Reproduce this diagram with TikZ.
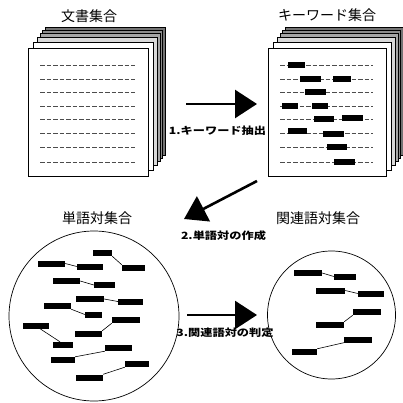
\documentclass[tikz,border=0pt]{standalone}
\usepackage{fontspec}
\usepackage{graphicx}
\setmainfont{Noto Sans CJK JP}
\usetikzlibrary{arrows.meta}
\tikzset{
  title/.style={font=\fontsize{14}{16}\selectfont, inner sep=0pt},
  steplabel/.style={font=\fontsize{10}{12}\selectfont\bfseries, inner sep=0pt},
  sheet/.style={draw=black, line width=0.7pt},
  dline/.style={draw=black!70, line width=0.75pt, dash pattern=on 4.5pt off 2pt},
  kw/.style={fill=black, inner sep=0pt, minimum height=6pt},
  pairline/.style={draw=black, line width=0.6pt},
  setcircle/.style={draw=black, circle, line width=0.7pt, inner sep=0pt},
  bigarrow/.style={line width=2.6pt, -{Triangle[length=22pt,width=28pt]}}
}
\begin{document}
\begin{tikzpicture}[x=1pt,y=-1pt]
\useasboundingbox (0,0) rectangle (402,403);
\fill[white] (0,0) rectangle (402,403);

% ---- titles
\node[title] (tDoc) at (89,16) {文書集合};
\node[title] (tKey) at (327,15) {キーワード集合};
\node[title] (tPair) at (97,218) {単語対集合};
\node[title] (tRel) at (318,218) {関連語対集合};

% ---- document stack (left)
\foreach \dx/\dy/\c in {17/-21/black!55, 14/-18/black!45, 12/-15/black!35, 9/-11/black!15, 5/-6/white}
  \draw[sheet, fill=\c, shift={(\dx,\dy)}] (28,48) rectangle (148,176);
\node[sheet, fill=white, minimum width=120pt, minimum height=128pt, inner sep=0pt] (docL) at (88,112) {};
\foreach \yy in {65,79,92.5,106,119.5,133,147.5,162}
  \draw[dline] (40,\yy) -- (135,\yy);

% ---- keyword stack (right)
\foreach \dx/\dy/\c in {17/-21/black!55, 14/-18/black!45, 12/-15/black!35, 9/-11/black!15, 5/-6/white}
  \draw[sheet, fill=\c, shift={(\dx,\dy)}] (268,48) rectangle (386,176);
\node[sheet, fill=white, minimum width=118pt, minimum height=128pt, inner sep=0pt] (docR) at (327,112) {};
\foreach \yy in {65,79,92.5,106,119.5,133,147.5,162}
  \draw[dline] (280,\yy) -- (373,\yy);
\node[kw, minimum width=17pt] (k1) at (296.5,65.5) {};
\node[kw, minimum width=21pt] (k2) at (310.5,79) {};
\node[kw, minimum width=18pt] (k3) at (342,79) {};
\node[kw, minimum width=21pt] (k4) at (315.5,92.5) {};
\node[kw, minimum width=16pt] (k5) at (290,106) {};
\node[kw, minimum width=16pt] (k6) at (320,106) {};
\node[kw, minimum width=20pt] (k7) at (324,119.5) {};
\node[kw, minimum width=21pt] (k8) at (352.5,118.5) {};
\node[kw, minimum width=19pt] (k9) at (297.5,131) {};
\node[kw, minimum width=21pt] (k10) at (333.5,134) {};
\node[kw, minimum width=20pt] (k11) at (337,147.5) {};
\node[kw, minimum width=21pt] (k12) at (344.5,162.5) {};

% ---- word-pair set (left circle)
\node[setcircle, minimum size=170pt] (setL) at (94,316) {};
\node[kw, minimum width=19pt] (p1) at (102.5,253) {};
\node[kw, minimum width=27pt] (p2) at (51.5,263.5) {};
\node[kw, minimum width=26pt] (p3) at (90,266.5) {};
\node[kw, minimum width=23pt] (p4) at (133.5,268) {};
\node[kw, minimum width=27pt] (p5) at (66.5,281) {};
\node[kw, minimum width=21pt] (p6) at (104.5,285) {};
\node[kw, minimum width=28pt] (p7) at (90,299) {};
\node[kw, minimum width=25pt] (p8) at (130.5,301.5) {};
\node[kw, minimum width=27pt] (p9) at (57.5,306) {};
\node[kw, minimum width=17pt] (p10) at (93.5,314.5) {};
\node[kw, minimum width=26pt] (p11) at (36,325.5) {};
\node[kw, minimum width=20pt] (p12) at (63,345) {};
\node[kw, minimum width=28pt] (p13) at (126,320) {};
\node[kw, minimum width=27pt] (p14) at (88.5,334) {};
\node[kw, minimum width=27pt] (p15) at (118.5,348) {};
\node[kw, minimum width=24pt] (p16) at (63,360) {};
\node[kw, minimum width=24pt] (p17) at (137,364) {};
\node[kw, minimum width=27pt] (p18) at (89.5,377.5) {};
\draw[pairline] (p2.east) -- (p3.west);
\draw[pairline] (p1.south east) -- (p4.north west);
\draw[pairline] (p5.east) -- (p6.west);
\draw[pairline] (p7.east) -- (p8.west);
\draw[pairline] (p9.south east) -- (p10.west);
\draw[pairline] ([xshift=4pt]p11.south) -- ([xshift=-3pt]p12.north);
\draw[pairline] (p14.north east) -- (p13.south west);
\draw[pairline] (p16.north east) -- (p15.south west);
\draw[pairline] (p18.north east) -- (p17.south west);

% ---- related pair set (right circle)
\node[setcircle, minimum size=128pt] (setR) at (331.5,315) {};
\node[kw, minimum width=28pt] (r1) at (308,273) {};
\node[kw, minimum width=22pt] (r2) at (345,276.5) {};
\node[kw, minimum width=29pt] (r3) at (330.5,290.5) {};
\node[kw, minimum width=26pt] (r4) at (371,293.5) {};
\node[kw, minimum width=28pt] (r5) at (367,312) {};
\node[kw, minimum width=28pt] (r6) at (330,325) {};
\node[kw, minimum width=28pt] (r7) at (358,339.5) {};
\node[kw, minimum width=25pt] (r8) at (304.5,352) {};
\draw[pairline] (r1.east) -- (r2.west);
\draw[pairline] (r3.east) -- (r4.west);
\draw[pairline] (r6.north east) -- (r5.south west);
\draw[pairline] (r8.north east) -- (r7.south west);

% ---- process arrows
\coordinate (a1s) at (186,104);
\coordinate (a1e) at (257,104);
\coordinate (a2s) at (257,181);
\coordinate (a2e) at (184,219);
\coordinate (a3s) at (187,315);
\coordinate (a3e) at (257,315);
\draw[bigarrow] (a1s) -- (a1e);
\draw[bigarrow] (a2s) -- (a2e);
\draw[bigarrow] (a3s) -- (a3e);
\node[steplabel] (lab1) at (217.5,131) {\scalebox{1.22}[1]{1.キーワード抽出}};
\node[steplabel] (lab2) at (223.5,236) {\scalebox{1.22}[1]{2.単語対の作成}};
\node[steplabel] (lab3) at (225,333) {\scalebox{1.22}[1]{3.関連語対の判定}};
\end{tikzpicture}
\end{document}
